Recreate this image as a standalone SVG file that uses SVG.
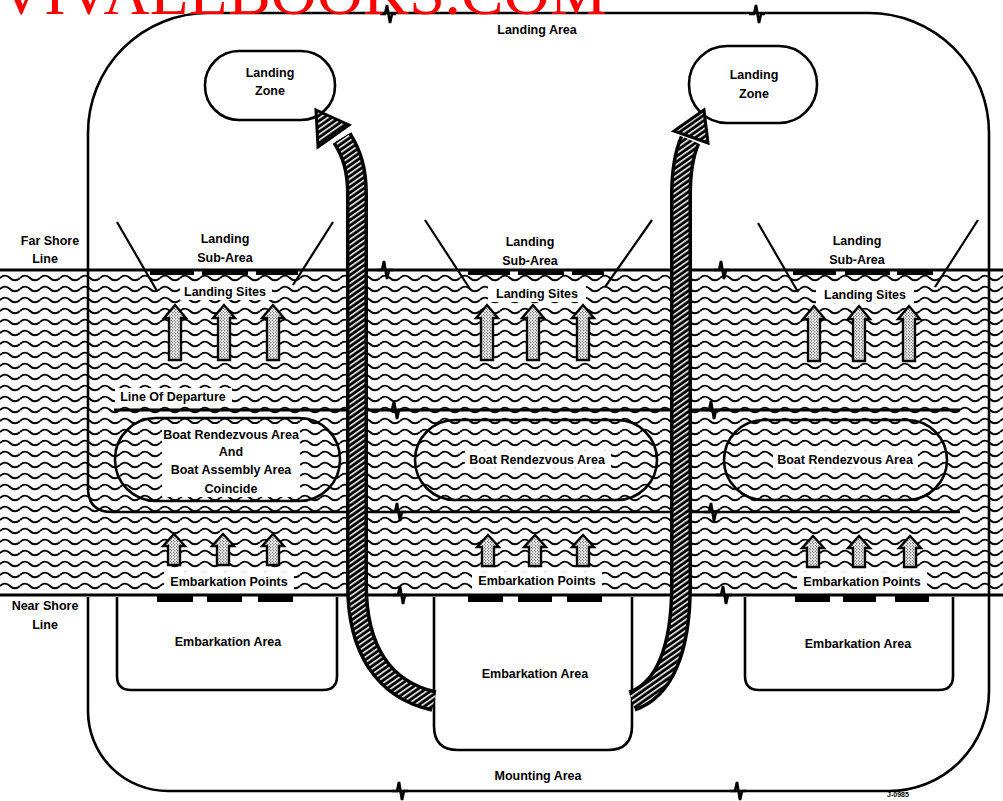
<svg xmlns="http://www.w3.org/2000/svg" width="1003" height="801" viewBox="0 0 1003 801">
<style>
.t{font-family:"Liberation Sans",Arial,sans-serif;font-weight:bold;font-size:12.5px;fill:#000;text-anchor:middle}
.ln{fill:none;stroke:#000;stroke-width:2.6}
.thin{fill:none;stroke:#000;stroke-width:2.2}
.wb{fill:#fff;stroke:none}
.bar{fill:#000}
.sa{fill:url(#stip);stroke:#000;stroke-width:2.4;stroke-linejoin:miter}
.brk{fill:none;stroke:#000;stroke-width:2.6;stroke-linejoin:miter}
</style>
<defs>
<pattern id="wave" patternUnits="userSpaceOnUse" x="0" y="273" width="20" height="11">
<path d="M0,5 C3,2 7,2 10,5 C13,8 17,8 20,5" fill="none" stroke="#000" stroke-width="2"/>
</pattern>
<pattern id="hatch" patternUnits="userSpaceOnUse" width="4.5" height="4.5" patternTransform="rotate(-35)">
<rect width="4.5" height="4.5" fill="#000"/>
<rect width="4.5" height="1.5" fill="#fff"/>
</pattern>
<pattern id="stip" patternUnits="userSpaceOnUse" width="3" height="3">
<rect width="3" height="3" fill="#fff"/>
<circle cx="0.8" cy="0.8" r="0.65" fill="#000"/>
<circle cx="2.3" cy="2.3" r="0.5" fill="#000"/>
</pattern>
<path id="la" d="M-6,0 V-42 H-11 L0,-55 L11,-42 H6 V0 Z"/>
<path id="ea" d="M-6,0 V-19 H-11 L0,-31 L11,-19 H6 V0 Z"/>
<path id="brk" d="M-8,0 H-3 L-1,-9 L2,9 L4,0 H8"/>
</defs>

<rect width="1003" height="801" fill="#fff"/>

<!-- water -->
<g id="water">
<rect x="0" y="272" width="1003" height="322" fill="url(#wave)"/>
<line x1="0" y1="270" x2="1003" y2="270" stroke="#000" stroke-width="3"/>
<line x1="0" y1="595" x2="1003" y2="595" stroke="#000" stroke-width="3"/>
</g>

<!-- outer areas -->
<g id="landing-mounting-area">
<path class="ln" d="M88,490 V133 A120,120 0 0 1 208,13 H869 A120,120 0 0 1 989,133 V691 A100,100 0 0 1 889,791 H168 A80,80 0 0 1 88,711 V597"/>
<path class="ln" d="M88,488 Q88,512 112,512 H960"/>
<use href="#brk" class="brk" x="388" y="14"/>
<use href="#brk" class="brk" x="757" y="14"/>
<use href="#brk" class="brk" x="400" y="791"/>
<use href="#brk" class="brk" x="738" y="791"/>
<use href="#brk" class="brk" x="398" y="512"/>
<use href="#brk" class="brk" x="712" y="512"/>
<text class="t" x="537" y="34">Landing Area</text>
<text class="t" x="538" y="780">Mounting Area</text>
</g>

<g id="shore-labels">
<use href="#brk" class="brk" x="385" y="270"/>
<use href="#brk" class="brk" x="722" y="270"/>
<use href="#brk" class="brk" x="401" y="595"/>
<use href="#brk" class="brk" x="724" y="595"/>
<text class="t" x="50" y="245">Far Shore</text>
<text class="t" x="45" y="263">Line</text>
<text class="t" x="45" y="610">Near Shore</text>
<text class="t" x="45" y="629">Line</text>
</g>

<g id="line-of-departure">
<line x1="114" y1="410" x2="960" y2="410" stroke="#000" stroke-width="3"/>
<use href="#brk" class="brk" x="395" y="410"/>
<use href="#brk" class="brk" x="712" y="410"/>
<rect class="wb" x="115" y="388" width="117" height="16"/>
<text class="t" x="173" y="401">Line Of Departure</text>
</g>

<!-- landing zones -->
<g id="landing-zone-left">
<rect class="ln" x="205" y="51" width="130" height="69" rx="34"/>
<text class="t" x="270" y="77">Landing</text>
<text class="t" x="270" y="95">Zone</text>
</g>
<g id="landing-zone-right">
<rect class="ln" x="689" y="46" width="128" height="77" rx="38"/>
<text class="t" x="754" y="79">Landing</text>
<text class="t" x="754" y="98">Zone</text>
</g>

<!-- landing sub-areas -->
<g id="landing-sub-area-left">
<line class="thin" x1="117" y1="222" x2="157" y2="291"/>
<line class="thin" x1="333" y1="222" x2="293" y2="285"/>
<text class="t" x="225" y="243">Landing</text>
<text class="t" x="225" y="262">Sub-Area</text>
<rect class="bar" x="150" y="269" width="44" height="6"/>
<rect class="bar" x="202" y="269" width="46" height="6"/>
<rect class="bar" x="256" y="269" width="42" height="6"/>
<rect class="wb" x="180" y="282" width="92" height="18"/>
<text class="t" x="225" y="296">Landing Sites</text>
</g>
<g id="landing-sub-area-middle">
<line class="thin" x1="425" y1="220" x2="470" y2="289"/>
<line class="thin" x1="652" y1="220" x2="605" y2="287"/>
<text class="t" x="530" y="246">Landing</text>
<text class="t" x="530" y="265">Sub-Area</text>
<rect class="bar" x="468" y="269" width="42" height="6"/>
<rect class="bar" x="518" y="269" width="46" height="6"/>
<rect class="bar" x="572" y="269" width="32" height="6"/>
<rect class="wb" x="488" y="284" width="98" height="18"/>
<text class="t" x="537" y="298">Landing Sites</text>
</g>
<g id="landing-sub-area-right">
<line class="thin" x1="758" y1="223" x2="798" y2="292"/>
<line class="thin" x1="978" y1="220" x2="935" y2="287"/>
<text class="t" x="857" y="245">Landing</text>
<text class="t" x="857" y="264">Sub-Area</text>
<rect class="bar" x="793" y="269" width="43" height="6"/>
<rect class="bar" x="845" y="269" width="45" height="6"/>
<rect class="bar" x="897" y="269" width="36" height="6"/>
<rect class="wb" x="816" y="285" width="98" height="18"/>
<text class="t" x="865" y="299">Landing Sites</text>
</g>

<!-- boat rendezvous areas -->
<g id="rendezvous-left">
<rect class="ln" x="115" y="418" width="225" height="83" rx="41" fill="none"/>
<rect class="wb" x="162" y="424" width="138" height="73"/>
<text class="t" x="231" y="439">Boat Rendezvous Area</text>
<text class="t" x="231" y="456">And</text>
<text class="t" x="231" y="474">Boat Assembly Area</text>
<text class="t" x="231" y="493">Coincide</text>
</g>
<g id="rendezvous-middle">
<rect class="ln" x="415" y="420" width="242" height="80" rx="40" fill="none"/>
<rect class="wb" x="465" y="451" width="146" height="17"/>
<text class="t" x="537" y="464">Boat Rendezvous Area</text>
</g>
<g id="rendezvous-right">
<rect class="ln" x="724" y="420" width="223" height="80" rx="40" fill="none"/>
<rect class="wb" x="773" y="451" width="145" height="17"/>
<text class="t" x="845" y="464">Boat Rendezvous Area</text>
</g>

<!-- embarkation -->
<g id="embarkation-left">
<path class="ln" d="M117,597 V676 Q117,690 131,690 H323 Q337,690 337,676 V597"/>
<rect class="wb" x="164" y="572" width="130" height="18"/>
<text class="t" x="229" y="586">Embarkation Points</text>
<rect class="bar" x="157" y="596" width="36" height="6"/>
<rect class="bar" x="207" y="596" width="35" height="6"/>
<rect class="bar" x="258" y="596" width="35" height="6"/>
<text class="t" x="228" y="646">Embarkation Area</text>
</g>
<g id="embarkation-middle">
<path class="ln" d="M434,597 V726 Q434,750 458,750 H608 Q632,750 632,726 V597"/>
<rect class="wb" x="472" y="572" width="130" height="18"/>
<text class="t" x="537" y="585">Embarkation Points</text>
<rect class="bar" x="468" y="596" width="35" height="6"/>
<rect class="bar" x="518" y="596" width="34" height="6"/>
<rect class="bar" x="567" y="596" width="35" height="6"/>
<text class="t" x="535" y="678">Embarkation Area</text>
</g>
<g id="embarkation-right">
<path class="ln" d="M745,597 V676 Q745,690 759,690 H939 Q953,690 953,676 V597"/>
<rect class="wb" x="797" y="572" width="130" height="18"/>
<text class="t" x="862" y="586">Embarkation Points</text>
<rect class="bar" x="795" y="596" width="35" height="6"/>
<rect class="bar" x="843" y="596" width="33" height="6"/>
<rect class="bar" x="895" y="596" width="34" height="6"/>
<text class="t" x="858" y="648">Embarkation Area</text>
</g>

<!-- connectors -->
<g id="connectors">
<g id="small-arrows">
<use href="#la" class="sa" x="175" y="360"/>
<use href="#la" class="sa" x="224" y="360"/>
<use href="#la" class="sa" x="273" y="360"/>
<use href="#la" class="sa" x="487" y="360"/>
<use href="#la" class="sa" x="533" y="360"/>
<use href="#la" class="sa" x="583" y="360"/>
<use href="#la" class="sa" x="814" y="361"/>
<use href="#la" class="sa" x="859" y="361"/>
<use href="#la" class="sa" x="909" y="361"/>
<use href="#ea" class="sa" x="174" y="565"/>
<use href="#ea" class="sa" x="223" y="565"/>
<use href="#ea" class="sa" x="273" y="565"/>
<use href="#ea" class="sa" x="488" y="566"/>
<use href="#ea" class="sa" x="535" y="566"/>
<use href="#ea" class="sa" x="583" y="566"/>
<use href="#ea" class="sa" x="813" y="567"/>
<use href="#ea" class="sa" x="859" y="567"/>
<use href="#ea" class="sa" x="910" y="567"/>
</g>
<g id="big-arrow-left">
<path d="M434,701 C384,690 357,650 357,585 V195 C357,170 352,154 342,138" fill="none" stroke="#000" stroke-width="22"/>
<path d="M434,701 C384,690 357,650 357,585 V195 C357,170 352,154 342,138" fill="none" stroke="url(#hatch)" stroke-width="15"/>
<polygon points="316,110 349,125 318,147" fill="url(#hatch)" stroke="#000" stroke-width="3" stroke-linejoin="miter"/>
</g>
<g id="big-arrow-right">
<path d="M632,701 C664,690 681,650 681,585 V195 C681,170 684,154 690,140" fill="none" stroke="#000" stroke-width="22"/>
<path d="M632,701 C664,690 681,650 681,585 V195 C681,170 684,154 690,140" fill="none" stroke="url(#hatch)" stroke-width="15"/>
<polygon points="704,110 708,143 674,131" fill="url(#hatch)" stroke="#000" stroke-width="3" stroke-linejoin="miter"/>
</g>
</g>

<text x="898" y="797" font-family="Liberation Sans,Arial,sans-serif" font-size="7" font-weight="bold" text-anchor="middle">J-0985</text>
<text x="-2" y="14" font-family="Liberation Serif,Times New Roman,serif" font-size="64" fill="#ff0000">VIVALLBOOKS.COM</text>
</svg>
